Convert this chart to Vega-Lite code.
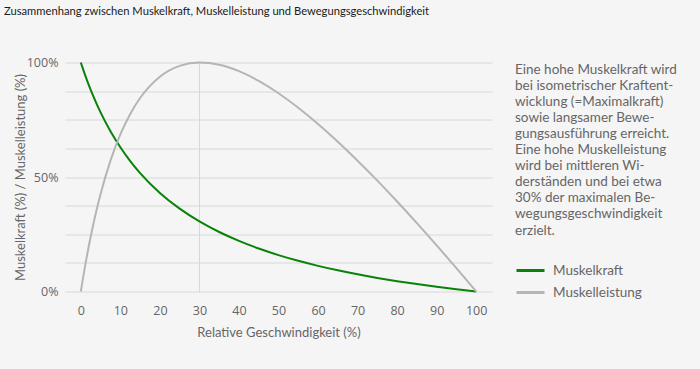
{
  "$schema": "https://vega.github.io/schema/vega-lite/v6.json",
  "width": 427,
  "height": 229,
  "autosize": {"type": "none"},
  "padding": {"left": 65, "top": 62.5, "right": 208, "bottom": 77.5},
  "background": "#f5f5f5",
  "title": {
    "text": "Zusammenhang zwischen Muskelkraft, Muskelleistung und Bewegungsgeschwindigkeit",
    "anchor": "start",
    "frame": "group",
    "dx": -61,
    "offset": 39,
    "font": "Lato",
    "fontSize": 11.2,
    "fontWeight": "normal",
    "color": "#1a1a1a"
  },
  "data": {
    "values": [
      {"v": 0, "wert": 100, "serie": "Muskelkraft"},
      {"v": 0.5, "wert": 97.41, "serie": "Muskelkraft"},
      {"v": 1, "wert": 94.93, "serie": "Muskelkraft"},
      {"v": 2, "wert": 90.25, "serie": "Muskelkraft"},
      {"v": 3, "wert": 85.94, "serie": "Muskelkraft"},
      {"v": 4, "wert": 81.93, "serie": "Muskelkraft"},
      {"v": 5, "wert": 78.22, "serie": "Muskelkraft"},
      {"v": 7.5, "wert": 69.98, "serie": "Muskelkraft"},
      {"v": 10, "wert": 62.97, "serie": "Muskelkraft"},
      {"v": 12.5, "wert": 56.95, "serie": "Muskelkraft"},
      {"v": 15, "wert": 51.71, "serie": "Muskelkraft"},
      {"v": 20, "wert": 43.05, "serie": "Muskelkraft"},
      {"v": 25, "wert": 36.18, "serie": "Muskelkraft"},
      {"v": 30, "wert": 30.6, "serie": "Muskelkraft"},
      {"v": 35, "wert": 25.98, "serie": "Muskelkraft"},
      {"v": 40, "wert": 22.09, "serie": "Muskelkraft"},
      {"v": 45, "wert": 18.76, "serie": "Muskelkraft"},
      {"v": 50, "wert": 15.89, "serie": "Muskelkraft"},
      {"v": 55, "wert": 13.39, "serie": "Muskelkraft"},
      {"v": 60, "wert": 11.19, "serie": "Muskelkraft"},
      {"v": 65, "wert": 9.24, "serie": "Muskelkraft"},
      {"v": 70, "wert": 7.49, "serie": "Muskelkraft"},
      {"v": 75, "wert": 5.93, "serie": "Muskelkraft"},
      {"v": 80, "wert": 4.51, "serie": "Muskelkraft"},
      {"v": 85, "wert": 3.23, "serie": "Muskelkraft"},
      {"v": 90, "wert": 2.06, "serie": "Muskelkraft"},
      {"v": 95, "wert": 0.99, "serie": "Muskelkraft"},
      {"v": 100, "wert": 0, "serie": "Muskelkraft"},
      {"v": 0, "wert": 0, "serie": "Muskelleistung"},
      {"v": 0.5, "wert": 5.31, "serie": "Muskelleistung"},
      {"v": 1, "wert": 10.34, "serie": "Muskelleistung"},
      {"v": 2, "wert": 19.66, "serie": "Muskelleistung"},
      {"v": 3, "wert": 28.08, "serie": "Muskelleistung"},
      {"v": 4, "wert": 35.7, "serie": "Muskelleistung"},
      {"v": 5, "wert": 42.6, "serie": "Muskelleistung"},
      {"v": 7.5, "wert": 57.17, "serie": "Muskelleistung"},
      {"v": 10, "wert": 68.6, "serie": "Muskelleistung"},
      {"v": 12.5, "wert": 77.55, "serie": "Muskelleistung"},
      {"v": 15, "wert": 84.5, "serie": "Muskelleistung"},
      {"v": 20, "wert": 93.79, "serie": "Muskelleistung"},
      {"v": 25, "wert": 98.53, "serie": "Muskelleistung"},
      {"v": 30, "wert": 100, "serie": "Muskelleistung"},
      {"v": 35, "wert": 99.05, "serie": "Muskelleistung"},
      {"v": 40, "wert": 96.23, "serie": "Muskelleistung"},
      {"v": 45, "wert": 91.97, "serie": "Muskelleistung"},
      {"v": 50, "wert": 86.57, "serie": "Muskelleistung"},
      {"v": 55, "wert": 80.23, "serie": "Muskelleistung"},
      {"v": 60, "wert": 73.13, "serie": "Muskelleistung"},
      {"v": 65, "wert": 65.4, "serie": "Muskelleistung"},
      {"v": 70, "wert": 57.13, "serie": "Muskelleistung"},
      {"v": 75, "wert": 48.41, "serie": "Muskelleistung"},
      {"v": 80, "wert": 39.31, "serie": "Muskelleistung"},
      {"v": 85, "wert": 29.88, "serie": "Muskelleistung"},
      {"v": 90, "wert": 20.16, "serie": "Muskelleistung"},
      {"v": 95, "wert": 10.19, "serie": "Muskelleistung"},
      {"v": 100, "wert": 0, "serie": "Muskelleistung"}
    ]
  },
  "mark": {"type": "line", "strokeWidth": 2, "interpolate": "monotone"},
  "encoding": {
    "x": {
      "field": "v",
      "type": "quantitative",
      "scale": {"domain": [-4, 104], "nice": false, "zero": false},
      "axis": {
        "values": [0, 10, 20, 30, 40, 50, 60, 70, 80, 90, 100],
        "title": "Relative Geschwindigkeit (%)",
        "domain": false,
        "ticks": false,
        "labelPadding": 13,
        "titlePadding": 9,
        "grid": true,
        "gridColor": {"condition": {"test": "datum.value === 30", "value": "#d8d8d8"}, "value": "transparent"}
      }
    },
    "y": {
      "field": "wert",
      "type": "quantitative",
      "scale": {"domain": [0, 100], "nice": false},
      "axis": {
        "values": [0, 12.5, 25, 37.5, 50, 62.5, 75, 87.5, 100],
        "labelExpr": "datum.value % 50 === 0 ? datum.value + '%' : ''",
        "title": "Muskelkraft (%) / Muskelleistung (%)",
        "domain": false,
        "ticks": false,
        "labelPadding": 7,
        "titlePadding": -1,
        "grid": true,
        "gridColor": "#d8d8d8"
      }
    },
    "color": {
      "field": "serie",
      "type": "nominal",
      "scale": {"domain": ["Muskelkraft", "Muskelleistung"], "range": ["#0a820a", "#b5b5b5"]},
      "legend": {
        "orient": "right",
        "offset": 23,
        "title": [
          "Eine hohe Muskelkraft wird",
          "bei isometrischer Kraftent-",
          "wicklung (=Maximalkraft)",
          "sowie langsamer Bewe-",
          "gungsausführung erreicht.",
          "Eine hohe Muskelleistung",
          "wird bei mittleren Wi-",
          "derständen und bei etwa",
          "30% der maximalen Be-",
          "wegungsgeschwindigkeit",
          "erzielt."
        ],
        "titleFont": "Lato",
        "titleFontSize": 13.5,
        "titleFontWeight": "normal",
        "titleColor": "#666666",
        "titleLineHeight": 16.1,
        "titleLimit": 300,
        "titlePadding": 18,
        "symbolType": "stroke",
        "symbolSize": 784,
        "symbolStrokeWidth": 3,
        "labelOffset": 7,
        "labelFont": "Lato",
        "labelFontSize": 13.5,
        "labelColor": "#666666",
        "rowPadding": -1
      }
    }
  },
  "config": {
    "view": {"stroke": null},
    "axis": {
      "labelFont": "Open Sans",
      "labelFontSize": 12.5,
      "labelColor": "#666666",
      "titleFont": "Lato",
      "titleFontSize": 13,
      "titleFontWeight": "normal",
      "titleColor": "#666666"
    }
  }
}
